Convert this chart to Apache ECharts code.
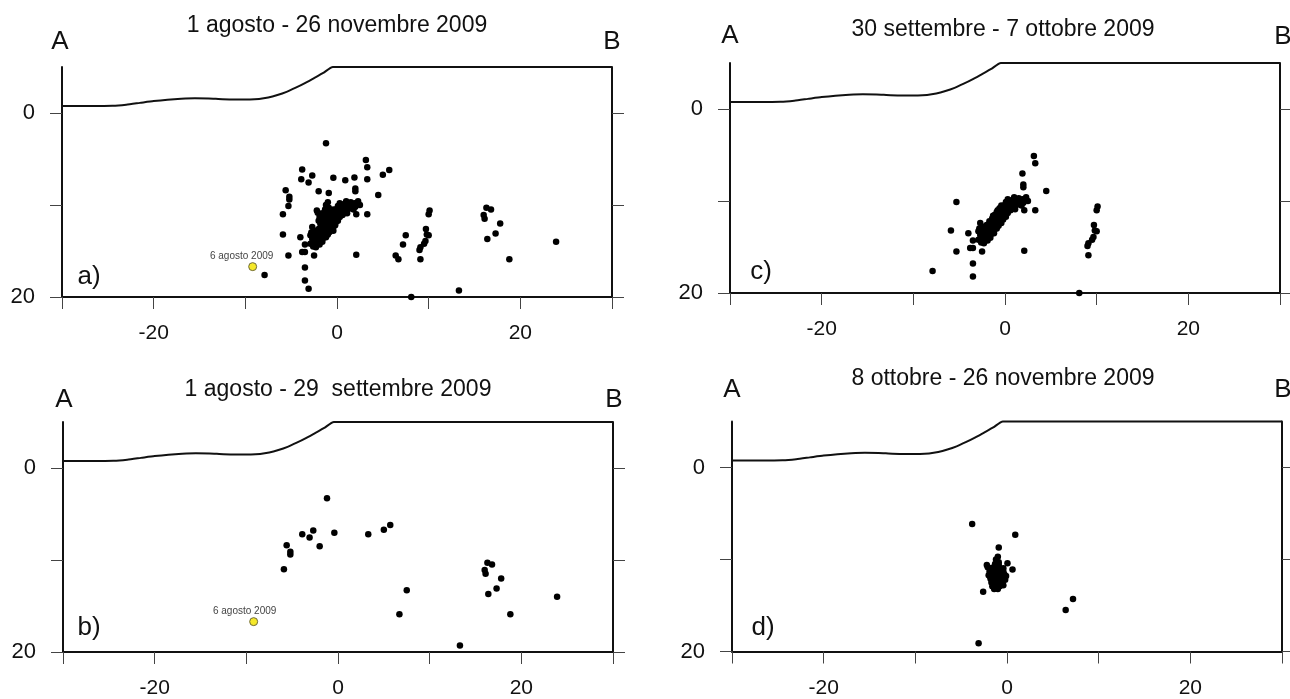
<!DOCTYPE html>
<html>
<head>
<meta charset="utf-8">
<title>Sezioni A-B sismicità 2009</title>
<script src="https://cdn.jsdelivr.net/npm/echarts@6/dist/echarts.min.js"></script>
<style>
  html, body { margin: 0; padding: 0; background: #fff; }
  #chart { width: 1290px; height: 699px; }
</style>
</head>
<body>
<div id="chart"></div>
<script>
// Distance along the A-B profile (km) and depth (km, positive downwards)
const xTickValues = [-30, -20, -10, 0, 10, 20, 30];
const xLabelValues = [-20, 0, 20];
const depthTickValues = [0, 10, 20];
const depthLabelValues = [0, 20];

// Topographic profile along the section (negative depth = elevation)
const topoDist = [-30, -27, -24.5, -23, -21.5, -20, -18.5, -17, -15.5, -14, -12.5, -11, -9.5,
  -8.5, -7.5, -6.5, -5.5, -4.5, -3.5, -2.5, -1.5, -0.45, 30];
const topoDepth = [-0.76, -0.76, -0.78, -0.9, -1.1, -1.3, -1.45, -1.55, -1.6, -1.58, -1.5, -1.47, -1.47,
  -1.52, -1.68, -1.95, -2.3, -2.75, -3.25, -3.8, -4.35, -5.0, -5.0];

const panelTitles = [
  '1 agosto - 26 novembre 2009',
  '1 agosto - 29  settembre 2009',
  '30 settembre - 7 ottobre 2009',
  '8 ottobre - 26 novembre 2009'
];
const panelTags = ['a)', 'b)', 'c)', 'd)'];

// 1 agosto - 29 settembre 2009
const quakesB = [
  [-1.2, 3.3], [5.7, 6.2], [5.0, 6.7], [3.3, 7.2], [-0.4, 7.05], [-2.7, 6.8], [-3.9, 7.2],
  [-3.1, 7.56], [-2.0, 8.5], [-5.6, 8.4], [-5.2, 9.1], [-5.2, 9.4], [-5.9, 11.0],
  [16.3, 10.3], [16.8, 10.5], [16.0, 11.1], [16.1, 11.5], [17.8, 12.0], [17.3, 13.1],
  [16.4, 13.7], [7.5, 13.3], [6.7, 15.9], [18.8, 15.9], [23.9, 14.0], [13.3, 19.3]
];

// 30 settembre - 7 ottobre 2009
const quakesC = [
  [3.15, 5.1], [3.3, 5.9], [1.9, 7.0], [2.0, 8.2], [2.0, 8.5], [4.5, 8.9], [3.3, 11.0],
  [2.1, 11.0], [2.1, 15.4], [-5.3, 10.1], [-5.9, 13.2], [-4.0, 13.5], [-5.3, 15.5],
  [-3.8, 15.1], [-3.5, 15.1], [-2.5, 15.5], [-3.5, 16.8], [-3.5, 18.2], [-7.9, 17.6],
  [8.1, 20.0], [-3.5, 14.3],
  [10.1, 10.6], [10.0, 11.0], [9.7, 12.6], [9.8, 13.2], [10.0, 13.3], [9.65, 13.9],
  [9.5, 14.2], [9.1, 14.6], [9.0, 14.9], [9.1, 15.9],
  [-2.6, 14.5], [-2.3, 14.6], [-2.1, 14.2], [-2.5, 14.0], [-1.9, 14.3], [-2.7, 13.7],
  [-2.2, 13.8], [-1.7, 13.9], [-2.4, 13.4], [-1.9, 13.5], [-1.5, 13.6], [-2.1, 13.1],
  [-1.6, 13.2], [-1.2, 13.3], [-2.8, 13.0], [-1.8, 12.9], [-1.3, 12.8], [-0.9, 13.0],
  [-2.0, 12.6], [-1.5, 12.5], [-1.1, 12.6], [-0.7, 12.7], [-1.7, 12.2], [-1.2, 12.2],
  [-0.8, 12.3], [-0.4, 12.4], [-1.4, 11.9], [-1.0, 11.8], [-0.6, 11.9], [-0.2, 12.0],
  [-1.1, 11.5], [-0.7, 11.5], [-0.3, 11.6], [0.1, 11.7], [-0.9, 11.2], [-0.5, 11.1],
  [-0.1, 11.2], [0.3, 11.3], [-0.6, 10.8], [-0.2, 10.8], [0.2, 10.9], [0.6, 11.0],
  [-0.4, 10.5], [0.0, 10.4], [0.4, 10.5], [0.8, 10.6], [0.1, 10.1], [0.5, 10.2],
  [0.9, 10.3], [1.3, 10.4], [0.3, 9.8], [0.8, 9.9], [1.2, 10.0], [1.6, 10.1],
  [1.0, 9.6], [1.5, 9.7], [1.9, 9.8], [2.3, 9.6], [2.5, 10.0], [2.0, 10.2],
  [-1.8, 13.0], [-1.4, 12.4], [-0.9, 12.0], [-0.5, 11.4], [-0.1, 10.9], [-2.3, 13.3],
  [-1.0, 12.9], [-0.3, 11.9], [0.5, 10.8], [1.1, 10.9], [-1.6, 14.0], [-2.9, 14.2],
  [-1.3, 11.6], [0.7, 10.0], [1.8, 10.5], [-0.8, 11.0], [-2.0, 13.9], [-1.2, 13.5],
  [-2.7, 12.4], [-2.9, 13.3], [-2.4, 12.8]
];

// 8 ottobre - 26 novembre 2009
const quakesD = [
  [-3.8, 6.15], [0.9, 7.3], [-0.9, 8.7], [7.2, 14.3], [6.4, 15.5], [-3.1, 19.1], [-2.6, 13.5],
  [-1.0, 9.7], [-1.2, 10.0], [-0.9, 10.3], [-1.3, 10.5], [-0.9, 10.6], [-2.2, 10.6],
  [-2.1, 10.85], [0.05, 10.4], [0.6, 11.1], [-0.4, 10.95], [-1.6, 10.9], [-1.2, 11.0],
  [-0.8, 11.0], [-0.4, 11.3], [-1.9, 11.3], [-1.5, 11.3], [-1.1, 11.4], [-0.7, 11.4],
  [-0.3, 11.6], [-2.0, 11.7], [-1.6, 11.7], [-1.2, 11.8], [-0.8, 11.8], [-0.4, 11.9],
  [-1.8, 12.1], [-1.4, 12.1], [-1.0, 12.2], [-0.6, 12.2], [-0.2, 12.2], [-1.7, 12.5],
  [-1.3, 12.5], [-0.9, 12.6], [-0.5, 12.6], [-1.6, 12.9], [-1.2, 12.9], [-0.8, 12.9],
  [-0.4, 12.8], [-1.4, 13.2], [-1.0, 13.2], [-1.5, 12.3], [-1.1, 11.6], [-0.9, 12.4],
  [-1.3, 11.5], [-0.6, 11.6], [-1.8, 11.9], [-0.1, 11.8]
];

// Whole period: union of the three sub-periods
const quakesA = quakesB.concat(quakesC, quakesD);

// Event of 6 agosto 2009
const eventLabel = '6 agosto 2009';
const eventPoint = [[-9.2, 16.7]];

const panels = [
  { quakes: quakesA, showEvent: true,  grid: { left: 62,  top: 67,    width: 550, height: 230 },
    title: [337, 26], a: [60, 42], b: [612, 42], tag: [89, 277], evOffset: -11 },
  { quakes: quakesB, showEvent: true,  grid: { left: 63,  top: 422,   width: 550, height: 230.5 },
    title: [338, 390], a: [64, 400], b: [614, 400], tag: [89, 628], evOffset: -9 },
  { quakes: quakesC, showEvent: false, grid: { left: 730, top: 63,    width: 550, height: 230 },
    title: [1003, 30], a: [730, 36], b: [1283, 37], tag: [761, 272] },
  { quakes: quakesD, showEvent: false, grid: { left: 732, top: 421.5, width: 550, height: 230 },
    title: [1003, 379], a: [732, 390], b: [1283, 390], tag: [763, 628] }
];

const FONT = '"Liberation Sans", Arial, Helvetica, sans-serif';
const axisLineStyle = { color: '#111', width: 2 };
const tickStyle = { color: '#444', width: 1 };

const grids = [], xAxes = [], yAxes = [], series = [], graphics = [];

function textEl(str, pos, size, color) {
  return {
    type: 'text', silent: true,
    style: {
      text: str, x: pos[0], y: pos[1], fill: color || '#111',
      font: size + 'px ' + FONT,
      textAlign: 'center', textVerticalAlign: 'middle',
      align: 'center', verticalAlign: 'middle'
    }
  };
}

panels.forEach((p, i) => {
  grids.push(Object.assign({ containLabel: false }, p.grid));

  xAxes.push({
    type: 'value', gridIndex: i, min: -30, max: 30, interval: 10,
    axisLine: { show: true, onZero: false, lineStyle: axisLineStyle },
    axisTick: { show: true, inside: false, length: 12, lineStyle: tickStyle, customValues: xTickValues },
    axisLabel: {
      show: true, margin: 26, fontSize: 21, color: '#111', fontFamily: FONT,
      customValues: xLabelValues,
      formatter: v => (xLabelValues.indexOf(v) >= 0 ? String(v) : '')
    },
    splitLine: { show: false }
  });

  const baseY = {
    type: 'value', gridIndex: i, min: -5, max: 20, interval: 5, inverse: true,
    axisLine: { show: true, onZero: false, lineStyle: axisLineStyle },
    axisTick: { show: true, inside: false, length: 12, lineStyle: tickStyle, customValues: depthTickValues },
    splitLine: { show: false }
  };
  yAxes.push(Object.assign({}, baseY, {
    position: 'left',
    axisLabel: {
      show: true, margin: 27, fontSize: 22, color: '#111', fontFamily: FONT,
      customValues: depthLabelValues,
      formatter: v => (depthLabelValues.indexOf(v) >= 0 ? String(v) : '')
    }
  }));
  yAxes.push(Object.assign({}, baseY, {
    position: 'right',
    axisLabel: { show: false }
  }));

  series.push({
    type: 'line', xAxisIndex: i, yAxisIndex: 2 * i,
    data: topoDist.map((d, k) => [d, topoDepth[k]]),
    smooth: 0.2, symbol: 'none', clip: false, silent: true,
    lineStyle: { color: '#111', width: 2 }, z: 3
  });

  series.push({
    type: 'scatter', xAxisIndex: i, yAxisIndex: 2 * i,
    data: p.quakes, symbol: 'circle', symbolSize: 6.5, silent: true,
    itemStyle: { color: '#000', opacity: 1 }, z: 4
  });

  if (p.showEvent) {
    series.push({
      type: 'scatter', xAxisIndex: i, yAxisIndex: 2 * i,
      data: eventPoint, symbol: 'circle', symbolSize: 8, silent: true,
      itemStyle: { color: '#f5e829', borderColor: '#6f6a3a', borderWidth: 1, opacity: 1 },
      label: {
        show: true, position: 'top', distance: 1, offset: [p.evOffset, 0],
        formatter: eventLabel, fontSize: 10, color: '#444', fontFamily: FONT
      },
      z: 5
    });
  }

  graphics.push(textEl(panelTitles[i], p.title, 23));
  graphics.push(textEl('A', p.a, 26));
  graphics.push(textEl('B', p.b, 26));
  graphics.push(textEl(panelTags[i], p.tag, 26));
});

const chart = echarts.init(document.getElementById('chart'), null, { renderer: 'canvas' });
chart.setOption({
  backgroundColor: '#fff',
  animation: false,
  textStyle: { fontFamily: FONT },
  grid: grids,
  xAxis: xAxes,
  yAxis: yAxes,
  series: series,
  graphic: { elements: graphics }
});
</script>
</body>
</html>
